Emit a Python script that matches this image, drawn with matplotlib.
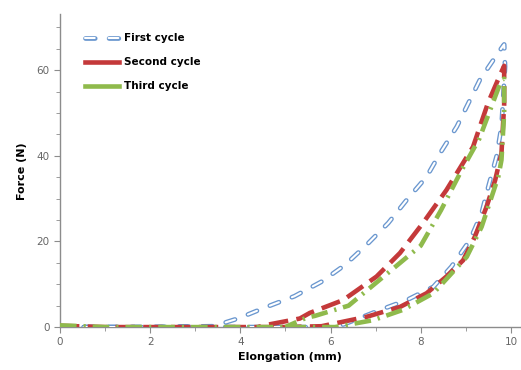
import numpy as np
import matplotlib.pyplot as plt

plt.rcParams['lines.scale_dashes'] = False

# First cycle: lower branch (rising), then upper branch (returning)
first_x = [0.0, 1.0, 2.0, 3.0, 4.0, 5.0, 6.0, 6.2, 6.43, 7.1, 7.69, 8.28, 8.68, 9.09, 9.35, 9.5, 9.68,
           9.79, 9.87, 9.85, 9.76, 9.31, 8.8, 8.43, 8.13, 7.69, 7.28, 6.8, 6.32, 5.8, 5.2, 4.58,
           3.95, 3.4, 2.0, 0.0]
first_y = [0.0, 0.0, 0.0, 0.0, 0.0, 0.0, 0.0, 0.3, 1.2, 4.0, 6.3, 9.4, 14.1, 20.3, 26.6, 32.8, 39.8,
           46.8, 60.8, 66.0, 64.7, 57.7, 46.8, 40.6, 35.1, 29.7, 24.3, 19.2, 14.5, 10.6, 7.2, 4.7,
           2.0, 0.2, 0.0, 0.0]

second_x = [0.0, 1.0, 2.0, 3.0, 4.0, 5.0, 5.8, 6.8, 7.54, 8.13, 8.57, 8.94, 9.2, 9.46, 9.65, 9.79,
            9.85, 9.85, 9.76, 9.49, 9.16, 8.57, 8.05, 7.54, 7.02, 6.28, 5.54, 5.32, 4.58, 4.4]
second_y = [0.3, 0.0, 0.0, 0.0, 0.0, 0.0, 0.2, 2.4, 4.7, 7.9, 11.8, 15.6, 21.1, 28.1, 34.3, 40.6,
            52.0, 61.0, 58.9, 52.3, 42.1, 32.0, 24.3, 17.3, 11.8, 6.3, 3.3, 2.0, 0.5, 0.0]

third_x = [0.0, 1.0, 2.0, 3.0, 4.0, 5.0, 6.1, 6.94, 7.6, 8.28, 9.02, 9.35, 9.72, 9.79, 9.85, 9.85,
           9.79, 9.3, 8.9, 8.45, 8.0, 7.2, 6.4, 5.65, 5.47, 5.1, 5.0]
third_y = [0.4, 0.0, 0.0, 0.0, 0.0, 0.0, 0.0, 1.6, 4.0, 7.9, 16.4, 23.4, 35.1, 39.0, 50.0, 58.0,
           57.7, 44.0, 36.5, 27.3, 19.0, 12.0, 5.0, 2.6, 2.2, 0.5, 0.0]

blue = '#6a97cf'
red = '#c4393a'
green = '#8fba4c'
grey = '#8c8c8c'

fig = plt.figure(figsize=(5.21, 3.70), dpi=100)
ax = fig.add_axes([0.115, 0.116, 0.883, 0.845])

# first cycle: hollow dashes (thick blue + thin white on top)
ax.plot(first_x, first_y, color=blue, lw=3.4, dashes=(7, 10), dash_capstyle='round', zorder=3)
ax.plot(first_x, first_y, color='white', lw=1.5, dashes=(7, 10), dash_capstyle='round', zorder=3.1)

ax.plot(second_x, second_y, color=red, lw=3.3, dashes=(14, 6), zorder=4)
ax.plot(third_x, third_y, color=green, lw=3.3, dashes=(12, 5, 1.6, 5), zorder=5)

# legend handles
h1a, = ax.plot([], [], color=blue, lw=3.4, dashes=(7, 10), dash_capstyle='round')
h1b, = ax.plot([], [], color='white', lw=1.5, dashes=(7, 10), dash_capstyle='round')
h2, = ax.plot([], [], color=red, lw=3.3)
h3, = ax.plot([], [], color=green, lw=3.3)
leg = ax.legend([(h1a, h1b), h2, h3], ['First cycle', 'Second cycle', 'Third cycle'],
                loc='upper left', bbox_to_anchor=(0.035, 0.97), frameon=False,
                handlelength=3.2, handletextpad=0.5, labelspacing=1.35,
                prop={'weight': 'bold', 'size': 7.5})

ax.set_xlim(0, 10.2)
ax.set_ylim(0, 73)
ax.set_xticks([0, 2, 4, 6, 8, 10])
ax.set_xticks(np.arange(0, 11, 1), minor=True)
ax.set_yticks([0, 20, 40, 60])
ax.set_yticks(np.arange(0, 71, 5), minor=True)

for s in ['top', 'right']:
    ax.spines[s].set_visible(False)
for s in ['left', 'bottom']:
    ax.spines[s].set_color(grey)
    ax.spines[s].set_linewidth(1.0)

ax.tick_params(which='both', direction='out', color=grey, labelcolor='#666666', labelsize=7.5)
ax.tick_params(which='major', length=4)
ax.tick_params(which='minor', length=3)

ax.set_xlabel('Elongation (mm)', fontsize=8, fontweight='bold', labelpad=3)
ax.set_ylabel('Force (N)', fontsize=8, fontweight='bold', labelpad=7)

fig.savefig('out.png', dpi=100)
